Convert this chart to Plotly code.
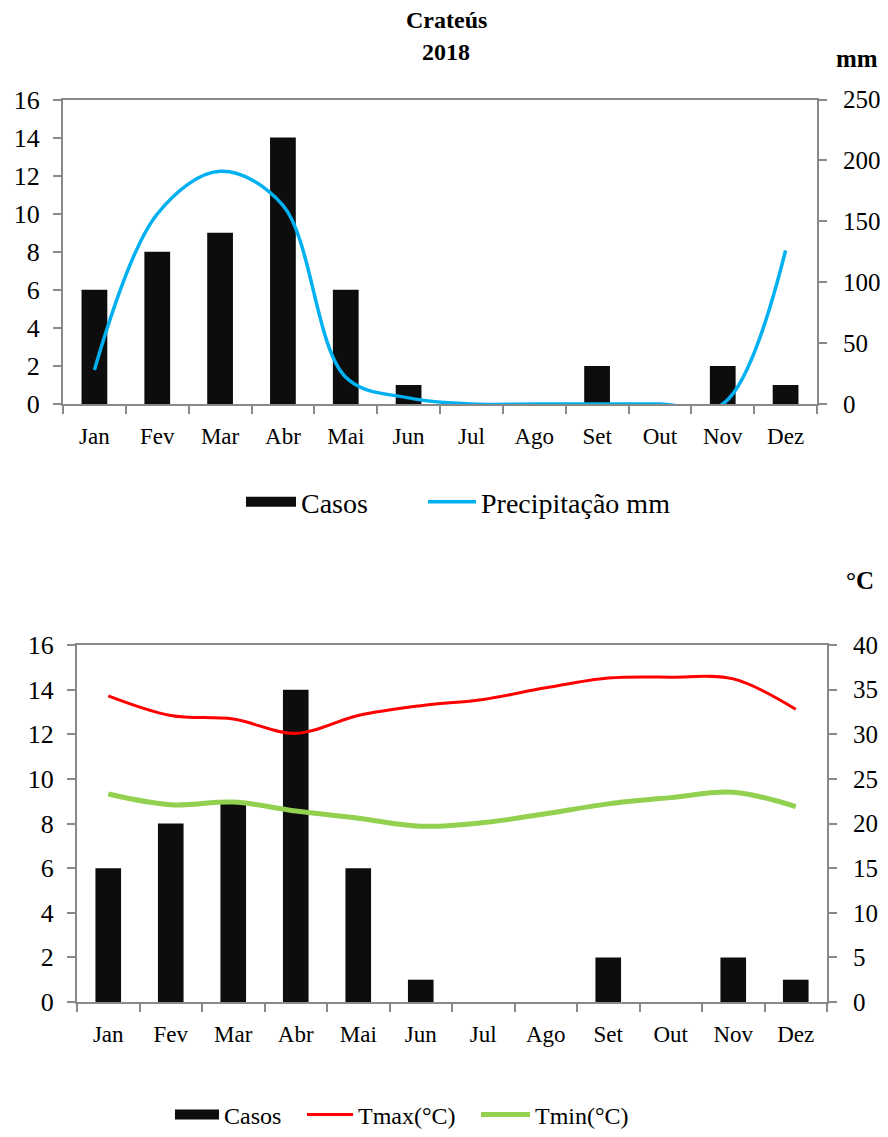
import plotly.graph_objects as go

months = ["Jan", "Fev", "Mar", "Abr", "Mai", "Jun", "Jul", "Ago", "Set", "Out", "Nov", "Dez"]
casos = [6, 8, 9, 14, 6, 1, 0, 0, 2, 0, 2, 1]
precip_mm = [28, 156, 191, 163, 22, 5, 0, 0, 0, 0, 0, 126]
tmax = [34.3, 32.1, 31.7, 30.1, 32.1, 33.2, 33.9, 35.2, 36.3, 36.4, 36.2, 32.8]
tmin = [23.3, 22.1, 22.4, 21.4, 20.6, 19.7, 20.1, 21.1, 22.2, 22.9, 23.5, 21.9]

OFF = 8  # page body margin
W, H = 888 - 2 * OFF, 1137 - 2 * OFF
FONT = "Liberation Serif"
AX = "#898989"
BAR = "#0d0d0d"


def fx(x):
    return (x - OFF) / W


def fy(y):
    return 1 - (y - OFF) / H


fig = go.Figure()

# ---- top chart ----
fig.add_trace(go.Bar(x=months, y=casos, marker=dict(color=BAR, line=dict(width=0)),
                     width=0.41, xaxis="x", yaxis="y", showlegend=False, name="Casos"))
fig.add_trace(go.Scatter(x=months, y=precip_mm, mode="lines",
                         line=dict(color="#00b0f0", width=3.5, shape="spline", smoothing=1.0),
                         xaxis="x", yaxis="y2", showlegend=False, name="Precipitação mm"))
fig.add_trace(go.Scatter(x=[None], y=[None], mode="lines", line=dict(color=BAR, width=15),
                         name="Casos", legend="legend", xaxis="x", yaxis="y"))
fig.add_trace(go.Scatter(x=[None], y=[None], mode="lines", line=dict(color="#00b0f0", width=3.5),
                         name="Precipitação mm", legend="legend2", xaxis="x", yaxis="y"))

# ---- bottom chart ----
fig.add_trace(go.Bar(x=months, y=casos, marker=dict(color=BAR, line=dict(width=0)),
                     width=0.41, xaxis="x2", yaxis="y3", showlegend=False, name="Casos"))
fig.add_trace(go.Scatter(x=months, y=tmax, mode="lines",
                         line=dict(color="#ff0000", width=3, shape="spline", smoothing=1.0),
                         xaxis="x2", yaxis="y4", showlegend=False, name="Tmax(°C)"))
fig.add_trace(go.Scatter(x=months, y=tmin, mode="lines",
                         line=dict(color="#92d050", width=5, shape="spline", smoothing=1.0),
                         xaxis="x2", yaxis="y4", showlegend=False, name="Tmin(°C)"))
fig.add_trace(go.Scatter(x=[None], y=[None], mode="lines", line=dict(color=BAR, width=14),
                         name="Casos", legend="legend3", xaxis="x2", yaxis="y3"))
fig.add_trace(go.Scatter(x=[None], y=[None], mode="lines", line=dict(color="#ff0000", width=3),
                         name="Tmax(°C)", legend="legend4", xaxis="x2", yaxis="y3"))
fig.add_trace(go.Scatter(x=[None], y=[None], mode="lines", line=dict(color="#92d050", width=5),
                         name="Tmin(°C)", legend="legend5", xaxis="x2", yaxis="y3"))

xcommon = dict(type="category", categoryorder="array", categoryarray=months,
               showline=True, linecolor=AX, linewidth=2, mirror=True,
               ticks="outside", tickson="boundaries", ticklen=8, tickcolor=AX, tickwidth=2,
               tickfont=dict(family=FONT, size=23, color="black"), showgrid=False,
               ticklabelstandoff=10,
               zeroline=False, range=[-0.5, 11.5], fixedrange=True, automargin=False)
ycommon = dict(showline=True, linecolor=AX, linewidth=2, ticks="outside", ticklen=8,
               tickcolor=AX, tickwidth=2,
               showgrid=False, zeroline=False, fixedrange=True, automargin=False)
yleft = dict(ticklabelstandoff=8, tickfont=dict(family=FONT, size=26, color="black"), **ycommon)
yright = dict(ticklabelstandoff=11, tickfont=dict(family=FONT, size=25, color="black"), **ycommon)


def leg(xsym, ycen, size, iw):
    return dict(orientation="h", x=fx(xsym - 5), y=fy(ycen), xanchor="left", yanchor="middle",
                font=dict(family=FONT, size=size, color="black"), itemwidth=iw,
                bgcolor="rgba(0,0,0,0)")


def note(text, x, y, size):
    return dict(text=text, x=fx(x), y=fy(y), xref="paper", yref="paper",
                xanchor="center", yanchor="middle", showarrow=False,
                font=dict(family=FONT, size=size, color="black"))


fig.update_layout(
    width=W, height=H, margin=dict(l=0, r=0, t=0, b=0, autoexpand=False),
    paper_bgcolor="white", plot_bgcolor="white",
    xaxis=dict(domain=[fx(63), fx(817)], anchor="y", **xcommon),
    yaxis=dict(domain=[fy(404), fy(99.5)], anchor="x", range=[0, 16], dtick=2, **yleft),
    yaxis2=dict(overlaying="y", side="right", anchor="x", range=[0, 250], dtick=50, **yright),
    xaxis2=dict(domain=[fx(77), fx(827)], anchor="y3", **xcommon),
    yaxis3=dict(domain=[fy(1002), fy(645)], anchor="x2", range=[0, 16], dtick=2, **yleft),
    yaxis4=dict(overlaying="y3", side="right", anchor="x2", range=[0, 40], dtick=5, **yright),
    legend=leg(246, 502, 28, 50),
    legend2=leg(428, 502, 28, 48),
    legend3=leg(175, 1115, 24, 44),
    legend4=leg(307, 1115, 24, 46),
    legend5=leg(481, 1115, 24, 49),
    annotations=[
        note("<b>Crateús</b>", 446, 20, 24),
        note("<b>2018</b>", 446, 52, 24),
        note("<b>mm</b>", 857, 58, 25),
        note("<b>°C</b>", 860, 580, 25),
    ],
)

fig.write_html("out.html")
